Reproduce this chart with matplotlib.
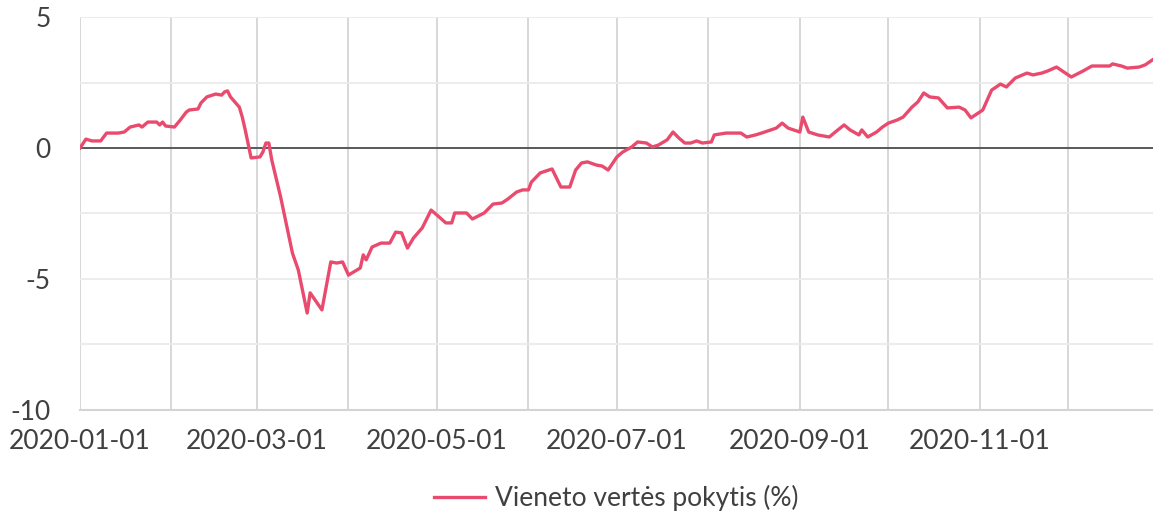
import matplotlib
matplotlib.use('Agg')
import matplotlib.pyplot as plt
import matplotlib.dates as mdates
import matplotlib.ticker as mticker
import pandas as pd

dates = ['2020-01-01', '2020-01-03', '2020-01-05', '2020-01-08', '2020-01-10', '2020-01-14',
         '2020-01-16', '2020-01-18', '2020-01-21', '2020-01-22', '2020-01-24', '2020-01-27',
         '2020-01-28', '2020-01-29', '2020-01-30', '2020-02-02', '2020-02-04', '2020-02-06',
         '2020-02-07', '2020-02-10', '2020-02-11', '2020-02-13', '2020-02-16', '2020-02-18',
         '2020-02-19', '2020-02-20', '2020-02-21', '2020-02-24', '2020-02-25', '2020-02-26',
         '2020-02-28', '2020-03-02', '2020-03-03', '2020-03-04', '2020-03-05', '2020-03-06',
         '2020-03-09', '2020-03-13', '2020-03-15', '2020-03-18', '2020-03-19', '2020-03-23',
         '2020-03-26', '2020-03-28', '2020-03-30', '2020-04-01', '2020-04-05', '2020-04-06',
         '2020-04-07', '2020-04-09', '2020-04-12', '2020-04-15', '2020-04-17', '2020-04-19',
         '2020-04-21', '2020-04-23', '2020-04-26', '2020-04-29', '2020-05-01', '2020-05-04',
         '2020-05-06', '2020-05-07', '2020-05-11', '2020-05-13', '2020-05-17', '2020-05-20',
         '2020-05-23', '2020-05-25', '2020-05-28', '2020-05-30', '2020-06-01', '2020-06-02',
         '2020-06-05', '2020-06-09', '2020-06-12', '2020-06-15', '2020-06-17', '2020-06-19',
         '2020-06-21', '2020-06-24', '2020-06-26', '2020-06-28', '2020-07-01', '2020-07-03',
         '2020-07-06', '2020-07-08', '2020-07-11', '2020-07-13', '2020-07-15', '2020-07-18',
         '2020-07-20', '2020-07-22', '2020-07-24', '2020-07-26', '2020-07-28', '2020-07-30',
         '2020-08-02', '2020-08-03', '2020-08-07', '2020-08-12', '2020-08-14', '2020-08-17',
         '2020-08-19', '2020-08-24', '2020-08-26', '2020-08-28', '2020-09-01', '2020-09-02',
         '2020-09-04', '2020-09-07', '2020-09-11', '2020-09-13', '2020-09-16', '2020-09-18',
         '2020-09-21', '2020-09-22', '2020-09-24', '2020-09-27', '2020-09-29', '2020-10-01',
         '2020-10-04', '2020-10-06', '2020-10-09', '2020-10-11', '2020-10-13', '2020-10-15',
         '2020-10-18', '2020-10-21', '2020-10-25', '2020-10-27', '2020-10-29', '2020-11-02',
         '2020-11-05', '2020-11-08', '2020-11-10', '2020-11-13', '2020-11-17', '2020-11-19',
         '2020-11-22', '2020-11-24', '2020-11-27', '2020-11-29', '2020-12-02', '2020-12-06',
         '2020-12-09', '2020-12-11', '2020-12-15', '2020-12-16', '2020-12-19', '2020-12-21',
         '2020-12-25', '2020-12-27', '2020-12-30']

values = [0.00, 0.34, 0.27, 0.27, 0.57, 0.57,
          0.61, 0.80, 0.88, 0.80, 0.99, 0.99,
          0.88, 0.99, 0.84, 0.80, 1.07, 1.37,
          1.45, 1.49, 1.72, 1.95, 2.06, 2.02,
          2.14, 2.18, 1.95, 1.56, 1.18, 0.69,
          -0.38, -0.34, -0.15, 0.19, 0.19, -0.46,
          -1.87, -4.01, -4.66, -6.30, -5.53, -6.18,
          -4.35, -4.39, -4.35, -4.85, -4.58, -4.08,
          -4.27, -3.78, -3.63, -3.63, -3.21, -3.24,
          -3.82, -3.44, -3.05, -2.37, -2.56, -2.86,
          -2.86, -2.48, -2.48, -2.71, -2.48, -2.14,
          -2.10, -1.95, -1.68, -1.60, -1.60, -1.30,
          -0.95, -0.80, -1.49, -1.49, -0.84, -0.57,
          -0.53, -0.65, -0.69, -0.84, -0.34, -0.15,
          0.04, 0.23, 0.19, 0.04, 0.11, 0.31,
          0.61, 0.38, 0.19, 0.19, 0.27, 0.19,
          0.23, 0.50, 0.57, 0.57, 0.42, 0.50,
          0.57, 0.76, 0.95, 0.76, 0.61, 1.18,
          0.61, 0.50, 0.42, 0.61, 0.88, 0.69,
          0.50, 0.69, 0.42, 0.61, 0.80, 0.95,
          1.07, 1.18, 1.56, 1.76, 2.10, 1.95,
          1.91, 1.53, 1.56, 1.45, 1.15, 1.45,
          2.21, 2.44, 2.33, 2.67, 2.86, 2.79,
          2.86, 2.94, 3.09, 2.94, 2.71, 2.94,
          3.13, 3.13, 3.13, 3.21, 3.13, 3.05,
          3.09, 3.17, 3.40]

series_label = 'Vieneto vertės pokytis (%)'

plt.rcParams['font.family'] = ['Lato', 'DejaVu Sans']
plt.rcParams['axes.unicode_minus'] = False

x = pd.to_datetime(dates)

fig = plt.figure(figsize=(11.53, 5.11), dpi=100)
ax = fig.add_axes([0.0694, 0.1977, 0.9306, 0.769])

ax.plot(x, values, color='#e94b6f', lw=2.4, label=series_label, zorder=3)
ax.axhline(0, color='#404040', lw=1.2, zorder=2)

ax.set_ylim(-10, 5)
ax.set_xlim(pd.Timestamp('2020-01-01'), pd.Timestamp('2020-01-01') + pd.Timedelta(days=363.7))

ax.yaxis.set_major_locator(mticker.MultipleLocator(5))
ax.yaxis.set_minor_locator(mticker.MultipleLocator(2.5))
ax.xaxis.set_major_locator(mdates.MonthLocator(bymonth=[1, 3, 5, 7, 9, 11]))
ax.xaxis.set_minor_locator(mdates.MonthLocator())
ax.xaxis.set_major_formatter(mdates.DateFormatter('%Y-%m-%d'))

ax.grid(axis='x', which='both', color='#d4d4d4', lw=1.3)
ax.grid(axis='y', which='both', color='#ebebeb', lw=1.3)
ax.set_axisbelow(True)

for s in ['top', 'right', 'left']:
    ax.spines[s].set_visible(False)
ax.spines['bottom'].set_color('#d4d4d4')
ax.spines['bottom'].set_linewidth(1.5)

ax.tick_params(which='both', length=0)
ax.tick_params(axis='x', pad=14, labelsize=19, labelcolor='#404040')
ax.tick_params(axis='y', pad=21, labelsize=19, labelcolor='#404040')

leg = ax.legend(loc='upper center', bbox_to_anchor=(0.5, -0.13), frameon=False,
                fontsize=19, handlelength=1.9, handletextpad=0.4)
for t in leg.get_texts():
    t.set_color('#404040')

fig.savefig('out.png', dpi=100)
